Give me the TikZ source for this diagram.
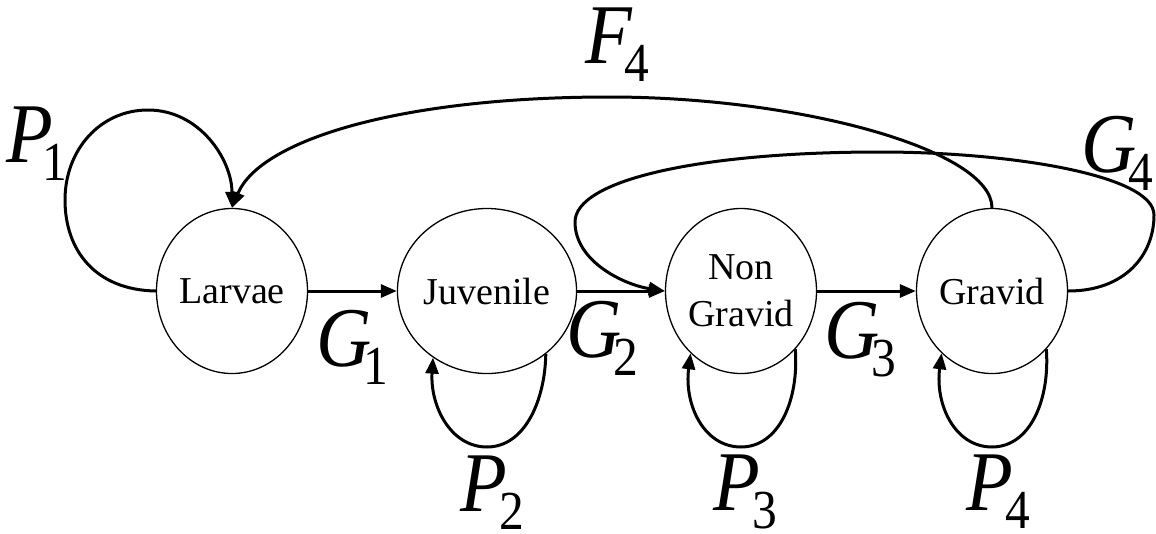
\documentclass[tikz,border=0pt]{standalone}
\usepackage{fontspec}
\setmainfont{Liberation Serif}
\usetikzlibrary{arrows.meta,shapes.geometric,calc}
\newcommand{\lab}[3]{\scalebox{0.9}[1]{{\fontsize{85}{85}\selectfont\itshape #1}\kern#3\raisebox{-18pt}{\fontsize{55}{55}\selectfont #2}}}
\begin{document}
\begin{tikzpicture}[x=1pt,y=-1pt,
  state/.style={ellipse, draw, line width=1.3pt, minimum width=151pt, minimum height=165pt,
    inner sep=0pt, font=\fontsize{38}{47}\selectfont, align=center},
  edge/.style={line width=3pt, -{Triangle[length=16pt,width=13pt]}},
  lbl/.style={anchor=base west, inner sep=0pt}]
\useasboundingbox (0,0) rectangle (1156,533);
\node[state] (L)  at (232,291) {Larvae};
\node[state] (J)  at (487,291) {Juvenile};
\node[state] (NG) at (741,291) {Non\\Gravid};
\node[state] (G)  at (992,291) {Gravid};
% forward transitions
\draw[edge] (L.east) -- (J.west);
\draw[edge] (J.east) -- (NG.west);
\draw[edge] (NG.east) -- (G.west);
% P1 loop
\draw[edge] (L.west) .. controls (95,290) and (65,250) .. (65,200)
  .. controls (65,150) and (100,110) .. (148,110)
  .. controls (200,110) and (232,160) .. (L.north);
% lower loops
\draw[edge] (J.-47) .. controls ($(J)+(58,109)$) and ($(J)+(38,156)$) .. ($(J)+(0,156)$)
  .. controls ($(J)+(-37,156)$) and ($(J)+(-57,114)$) .. (J.231);
\draw[edge] (NG.-47) .. controls ($(NG)+(58,109)$) and ($(NG)+(38,156)$) .. ($(NG)+(0,156)$)
  .. controls ($(NG)+(-37,156)$) and ($(NG)+(-57,114)$) .. (NG.231);
\draw[edge] (G.-47) .. controls ($(G)+(58,109)$) and ($(G)+(38,156)$) .. ($(G)+(0,156)$)
  .. controls ($(G)+(-37,156)$) and ($(G)+(-57,114)$) .. (G.231);
% F4
\draw[edge] (G.north) .. controls (992,150) and (800,97) .. (609,97)
  .. controls (400,97) and (260,140) .. (L.north);
% G4
\draw[edge] (G.east) .. controls (1125,291) and (1154,255) .. (1154,215)
  .. controls (1154,175) and (1010,152) .. (880,152)
  .. controls (700,152) and (575,180) .. (575,222)
  .. controls (575,262) and (625,285) .. (NG.west);
% labels
\node[lbl] (p1) at (6,162) {\lab{P}{1}{-12pt}};
\node[lbl] (g1) at (316,366) {\lab{G}{1}{-9pt}};
\node[lbl] (g2) at (566,357) {\lab{G}{2}{-9pt}};
\node[lbl] (g3) at (824,358) {\lab{G}{3}{-9pt}};
\node[lbl] (f4) at (585,63) {\lab{F}{4}{-8pt}};
\node[lbl] (g4) at (1081,172) {\lab{G}{4}{-9pt}};
\node[lbl] (p2) at (460,511) {\lab{P}{2}{-8pt}};
\node[lbl] (p3) at (713,510) {\lab{P}{3}{-8pt}};
\node[lbl] (p4) at (966,510) {\lab{P}{4}{-8pt}};
\end{tikzpicture}
\end{document}
